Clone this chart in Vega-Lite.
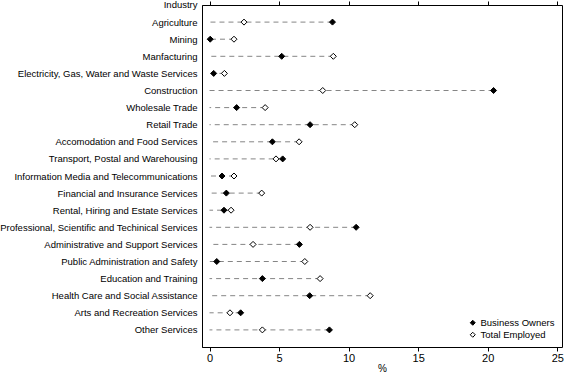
{
  "$schema": "https://vega.github.io/schema/vega-lite/v6.json",
  "width": 360,
  "height": 342,
  "autosize": {"type": "none"},
  "padding": {"left": 202, "top": 5, "right": 5, "bottom": 31},
  "config": {
    "font": "Liberation Sans",
    "view": {"stroke": "black", "strokeWidth": 1},
    "axis": {"grid": false, "domainColor": "black", "tickColor": "black", "labelColor": "black", "titleColor": "black", "titleFontWeight": "normal"}
  },
  "data": {"values": [
    {"industry": "Agriculture", "series": "Business Owners", "value": 8.84},
    {"industry": "Agriculture", "series": "Total Employed", "value": 2.48},
    {"industry": "Mining", "series": "Business Owners", "value": 0.05},
    {"industry": "Mining", "series": "Total Employed", "value": 1.76},
    {"industry": "Manfacturing", "series": "Business Owners", "value": 5.19},
    {"industry": "Manfacturing", "series": "Total Employed", "value": 8.9},
    {"industry": "Electricity, Gas, Water and Waste Services", "series": "Business Owners", "value": 0.3},
    {"industry": "Electricity, Gas, Water and Waste Services", "series": "Total Employed", "value": 1.07},
    {"industry": "Construction", "series": "Business Owners", "value": 20.42},
    {"industry": "Construction", "series": "Total Employed", "value": 8.14},
    {"industry": "Wholesale Trade", "series": "Business Owners", "value": 1.95},
    {"industry": "Wholesale Trade", "series": "Total Employed", "value": 4.0},
    {"industry": "Retail Trade", "series": "Business Owners", "value": 7.23},
    {"industry": "Retail Trade", "series": "Total Employed", "value": 10.44},
    {"industry": "Accomodation and Food Services", "series": "Business Owners", "value": 4.52},
    {"industry": "Accomodation and Food Services", "series": "Total Employed", "value": 6.44},
    {"industry": "Transport, Postal and Warehousing", "series": "Business Owners", "value": 5.26},
    {"industry": "Transport, Postal and Warehousing", "series": "Total Employed", "value": 4.78},
    {"industry": "Information Media and Telecommunications", "series": "Business Owners", "value": 0.9},
    {"industry": "Information Media and Telecommunications", "series": "Total Employed", "value": 1.76},
    {"industry": "Financial and Insurance Services", "series": "Business Owners", "value": 1.21},
    {"industry": "Financial and Insurance Services", "series": "Total Employed", "value": 3.75},
    {"industry": "Rental, Hiring and Estate Services", "series": "Business Owners", "value": 1.04},
    {"industry": "Rental, Hiring and Estate Services", "series": "Total Employed", "value": 1.55},
    {"industry": "Professional, Scientific and Techinical Services", "series": "Business Owners", "value": 10.54},
    {"industry": "Professional, Scientific and Techinical Services", "series": "Total Employed", "value": 7.23},
    {"industry": "Administrative and Support Services", "series": "Business Owners", "value": 6.46},
    {"industry": "Administrative and Support Services", "series": "Total Employed", "value": 3.13},
    {"industry": "Public Administration and Safety", "series": "Business Owners", "value": 0.52},
    {"industry": "Public Administration and Safety", "series": "Total Employed", "value": 6.85},
    {"industry": "Education and Training", "series": "Business Owners", "value": 3.8},
    {"industry": "Education and Training", "series": "Total Employed", "value": 7.95},
    {"industry": "Health Care and Social Assistance", "series": "Business Owners", "value": 7.2},
    {"industry": "Health Care and Social Assistance", "series": "Total Employed", "value": 11.55},
    {"industry": "Arts and Recreation Services", "series": "Business Owners", "value": 2.24},
    {"industry": "Arts and Recreation Services", "series": "Total Employed", "value": 1.47},
    {"industry": "Other Services", "series": "Business Owners", "value": 8.62},
    {"industry": "Other Services", "series": "Total Employed", "value": 3.8}
  ]},
  "resolve": {"axis": {"x": "independent"}},
  "layer": [
    {
      "transform": [{"aggregate": [{"op": "max", "field": "value", "as": "mx"}], "groupby": ["industry"]}],
      "mark": {"type": "rule", "strokeDash": [5, 4], "color": "#858585", "strokeWidth": 1},
      "encoding": {
        "y": {"field": "industry", "type": "nominal", "sort": null, "scale": {"type": "point", "padding": 1},
              "axis": {"title": "Industry", "titleAngle": 0, "titleAlign": "right", "titleBaseline": "middle", "titleX": -5, "titleY": -1, "titleFontSize": 9.5,
                       "ticks": false, "labelPadding": 5, "labelFontSize": 9.5, "labelLimit": 0, "domain": true}},
        "x": {"field": "mx", "type": "quantitative", "scale": {"domain": [-0.54, 25.34], "nice": false, "zero": false},
              "axis": {"orient": "top", "labels": false, "title": null, "values": [0, 5, 10, 15, 20, 25], "tickSize": 4, "domain": false}},
        "x2": {"datum": 0}
      }
    },
    {
      "mark": {"type": "point", "shape": "diamond", "filled": true, "size": 36, "stroke": "black", "strokeWidth": 1, "opacity": 1},
      "encoding": {
        "y": {"field": "industry", "type": "nominal", "sort": null},
        "x": {"field": "value", "type": "quantitative",
              "axis": {"orient": "bottom", "title": "%", "values": [0, 5, 10, 15, 20, 25], "tickSize": 4, "labelPadding": 1, "labelFontSize": 11, "titleFontSize": 10, "titlePadding": 0, "domain": false}},
        "fill": {"field": "series", "type": "nominal", "scale": {"domain": ["Business Owners", "Total Employed"], "range": ["black", "white"]},
                 "legend": {"title": null, "orient": "bottom-right", "offset": 4, "symbolType": "diamond", "symbolSize": 25, "symbolStrokeColor": "black", "symbolStrokeWidth": 1, "labelFontSize": 9.5, "labelColor": "black", "rowPadding": 1, "labelOffset": 3, "padding": 3}}
      }
    }
  ]
}
